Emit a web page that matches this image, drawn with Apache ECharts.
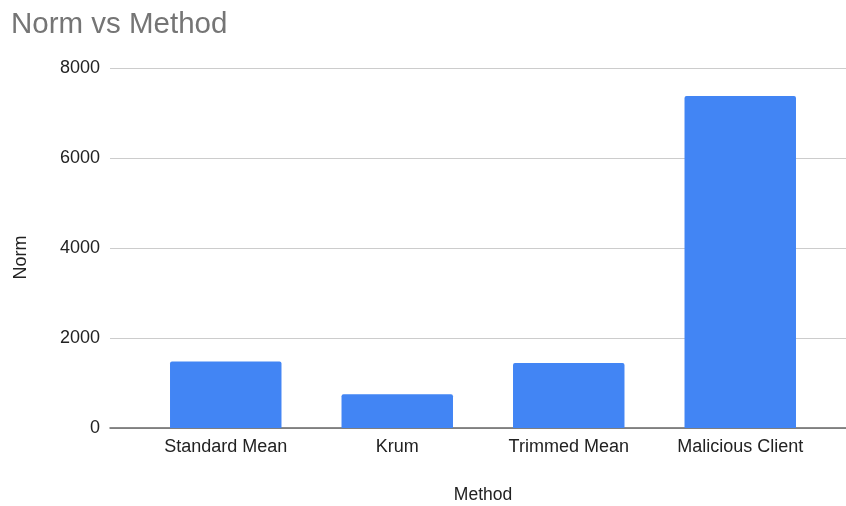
<!DOCTYPE html>
<html>
<head>
<meta charset="utf-8">
<script src="https://cdn.jsdelivr.net/npm/echarts@6/dist/echarts.min.js"></script>
<style>
html,body{margin:0;padding:0;background:#fff;}
#chart{width:846px;height:506px;}
</style>
</head>
<body>
<div id="chart"></div>
<script>
const categories = ["Standard Mean", "Krum", "Trimmed Mean", "Malicious Client"];
const normValues = [1480, 750, 1445, 7380];
const yTicks = [0, 2000, 4000, 6000, 8000];

const FONT = '"Liberation Sans", Arial, sans-serif';
const chart = echarts.init(document.getElementById('chart'), null, {renderer: 'canvas'});
const yMin = yTicks[0], yMax = yTicks[yTicks.length - 1], yStep = yTicks[1] - yTicks[0];

chart.setOption({
  animation: false,
  backgroundColor: '#ffffff',
  title: {
    text: 'Norm vs Method',
    left: 6, top: 5,
    textStyle: {fontFamily: FONT, fontSize: 29.5, fontWeight: 'normal', color: '#757575'}
  },
  grid: [
    {left: 110, right: 0, top: 68, bottom: 78, containLabel: false, outerBoundsMode: 'none'},
    {left: 140, right: 20, top: 68, bottom: 78, containLabel: false, outerBoundsMode: 'none'}
  ],
  xAxis: [
    {
      gridIndex: 0, type: 'value', min: 0, max: 1,
      axisLine: {show: true, lineStyle: {color: '#666666', width: 1.5}},
      axisTick: {show: false}, axisLabel: {show: false}, splitLine: {show: false}
    },
    {
      gridIndex: 1, type: 'category', data: categories,
      name: 'Method', nameLocation: 'middle', nameGap: 58,
      nameTextStyle: {fontFamily: FONT, fontSize: 17.5, color: '#222222'},
      axisLine: {show: false}, axisTick: {show: false},
      axisLabel: {fontFamily: FONT, fontSize: 18, color: '#222222', margin: 10}
    }
  ],
  yAxis: [
    {
      gridIndex: 0, type: 'value', min: yMin, max: yMax, interval: yStep,
      name: 'Norm', nameLocation: 'middle', nameGap: 80, nameRotate: 90,
      nameTextStyle: {fontFamily: FONT, fontSize: 18, color: '#222222', padding: [0, 19, 0, 0]},
      axisLine: {show: false}, axisTick: {show: false},
      axisLabel: {fontFamily: FONT, fontSize: 18, color: '#222222', margin: 10,
        formatter: function (v) { return String(v); }},
      splitLine: {show: true, lineStyle: {color: '#cccccc', width: 1}}
    },
    {
      gridIndex: 1, type: 'value', min: yMin, max: yMax, interval: yStep,
      axisLine: {show: false}, axisTick: {show: false}, axisLabel: {show: false},
      splitLine: {show: false}
    }
  ],
  series: [
    {
      type: 'bar', xAxisIndex: 1, yAxisIndex: 1,
      data: normValues, barWidth: '65%',
      itemStyle: {color: '#4285F4', borderRadius: [2, 2, 0, 0]},
      z: 1
    }
  ]
});
</script>
</body>
</html>
